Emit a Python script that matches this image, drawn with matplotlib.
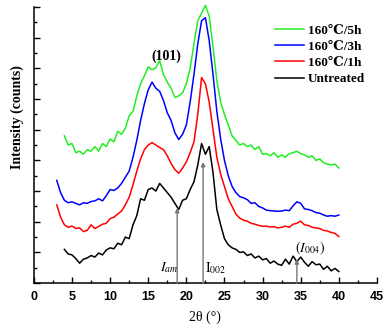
import numpy as np
import matplotlib
matplotlib.use("Agg")
from matplotlib import pyplot as plt
from matplotlib.ticker import MultipleLocator

# 2theta grids
theta_a = np.arange(4.0, 40.01, 0.5)   # untreated, 5h
theta_b = np.arange(3.0, 40.01, 0.5)   # 1h, 3h

untreated = [1.10, 0.95, 0.92, 0.80, 0.65, 0.78, 0.82, 0.90, 0.85, 0.98,
             0.92, 1.08, 1.15, 1.12, 1.30, 1.25, 1.50, 1.45, 1.90, 2.20,
             2.75, 2.70, 3.05, 3.10, 3.00, 3.25, 3.10, 2.95, 2.80, 2.60,
             2.40, 2.70, 2.75, 3.05, 3.30, 3.85, 4.55, 4.20, 4.45, 3.60,
             2.40, 1.90, 1.45, 1.25, 1.15, 1.10, 1.00, 1.02, 0.90, 0.95,
             0.82, 0.88, 0.76, 0.80, 0.65, 0.72, 0.62, 0.58, 0.78, 0.62,
             0.88, 0.70, 0.85, 0.68, 0.55, 0.70, 0.60, 0.62, 0.45, 0.55,
             0.40, 0.48, 0.38]

h1 = [2.55, 2.15, 1.90, 1.82, 1.86, 1.78, 1.80, 1.68, 1.72, 1.90,
      1.78, 1.85, 1.92, 1.95, 2.10, 2.15, 2.25, 2.35, 2.55, 2.80,
      3.20, 3.65, 4.05, 4.35, 4.50, 4.58, 4.50, 4.42, 4.35, 4.15,
      3.90, 3.70, 3.58, 3.75, 3.95, 4.25, 4.60, 5.50, 6.70, 6.50,
      5.90, 5.00, 4.10, 3.55, 3.15, 2.75, 2.50, 2.25, 2.12, 2.05,
      2.02, 1.95, 1.92, 1.88, 1.85, 1.86, 1.83, 1.84, 1.80, 1.82,
      1.86, 1.82, 1.92, 1.95, 2.02, 1.90, 1.88, 1.82, 1.80, 1.78,
      1.72, 1.70, 1.65, 1.62, 1.52]

h3 = [3.35, 2.95, 2.70, 2.62, 2.65, 2.60, 2.55, 2.62, 2.60, 2.66,
      2.68, 2.75, 2.68, 2.85, 3.05, 3.02, 3.10, 3.25, 3.45, 3.65,
      4.10, 4.65, 5.30, 5.85, 6.30, 6.55, 6.35, 6.25, 5.95, 5.55,
      5.30, 4.90, 4.68, 4.85, 5.15, 5.90, 6.80, 7.80, 8.55, 8.65,
      7.90, 6.80, 5.60, 4.70, 4.00, 3.50, 3.15, 2.95, 2.82, 2.78,
      2.72, 2.60, 2.62, 2.50, 2.45, 2.38, 2.36, 2.35, 2.34, 2.35,
      2.38, 2.36, 2.52, 2.65, 2.60, 2.42, 2.40, 2.36, 2.30, 2.28,
      2.22, 2.18, 2.20, 2.18, 2.22]

h5 = [4.80, 4.50, 4.55, 4.25, 4.30, 4.20, 4.35, 4.30, 4.45, 4.30,
      4.55, 4.45, 4.70, 4.60, 4.95, 4.85, 5.05, 5.45, 5.60, 6.10,
      6.50, 6.75, 7.05, 6.95, 7.02, 7.25, 6.80, 6.55, 6.35, 6.05,
      6.10, 6.20, 6.50, 7.00, 7.80, 8.55, 8.80, 9.05, 8.70, 7.70,
      6.60, 5.90, 5.50, 5.15, 4.80, 4.65, 4.50, 4.55, 4.45, 4.50,
      4.35, 4.45, 4.20, 4.22, 4.15, 4.25, 4.10, 4.18, 4.10, 4.22,
      4.25, 4.30, 4.22, 4.18, 4.10, 4.15, 4.00, 4.05, 3.92, 3.88,
      3.85, 3.88, 3.75]

serif = ['Liberation Serif', 'DejaVu Serif']
sans = ['Liberation Sans', 'DejaVu Sans']

fig = plt.figure(figsize=(3.85, 3.3), dpi=100)
ax = fig.add_axes([0.088, 0.142, 0.891, 0.837])

ax.plot(theta_a, h5, color='#22ee22', lw=1.1, label='160\u2103/5h', clip_on=False)
ax.plot(theta_b, h3, color='#0000ff', lw=1.1, label='160\u2103/3h')
ax.plot(theta_b, h1, color='#ff0000', lw=1.1, label='160\u2103/1h')
ax.plot(theta_a, untreated, color='black', lw=1.1, label='Untreated')

ax.set_xlim(0, 45)
ax.set_ylim(0, 9)
ax.xaxis.set_major_locator(MultipleLocator(5))
ax.xaxis.set_minor_locator(MultipleLocator(2.5))
ax.yaxis.set_major_locator(MultipleLocator(1))
ax.yaxis.set_minor_locator(MultipleLocator(0.5))
ax.tick_params(which='both', direction='in', width=1)
ax.tick_params(which='major', length=4)
ax.tick_params(which='minor', length=2)
ax.tick_params(axis='y', labelleft=False)
ax.tick_params(axis='x', pad=6)
for s in ['top', 'right']:
    ax.spines[s].set_visible(False)
for s in ['left', 'bottom']:
    ax.spines[s].set_linewidth(1.1)
for lab in ax.get_xticklabels():
    lab.set_family(sans)
    lab.set_fontweight('bold')
    lab.set_fontsize(9)

ax.set_xlabel('2\u03b8 (\u00b0)', family=serif, fontsize=10, labelpad=5)
ax.set_ylabel('Intensity (counts)', family=serif, fontsize=10, fontweight='bold')
ax.yaxis.set_label_coords(-0.03, 0.6)

# marker arrows
for x0, y1 in [(18.8, 2.45), (22.2, 3.95), (34.5, 0.78)]:
    ax.annotate('', xy=(x0, y1), xytext=(x0, 0),
                arrowprops=dict(arrowstyle='-|>', color='#777777', lw=1.0,
                                mutation_scale=6, shrinkA=0, shrinkB=0))

ax.text(17.4, 7.4, '(101)', family=serif, fontsize=10, fontweight='bold',
        ha='center', va='center')
ax.text(17.8, 0.5, r'$I_{am}$', fontsize=10, ha='center', va='center',
        math_fontfamily='stix')
ax.text(23.8, 0.5, r'$\mathrm{I}_{002}$', fontsize=10, ha='center', va='center',
        math_fontfamily='stix')
ax.text(36.3, 1.15, r'$(I_{004})$', fontsize=10, ha='center', va='center',
        math_fontfamily='stix')

leg = ax.legend(loc='upper right', bbox_to_anchor=(1.0, 0.98), frameon=False,
                prop=dict(family=serif, weight='bold', size=9.5),
                handlelength=2.2, handletextpad=0.3, labelspacing=0.3)

fig.savefig('out.png', dpi=100)
